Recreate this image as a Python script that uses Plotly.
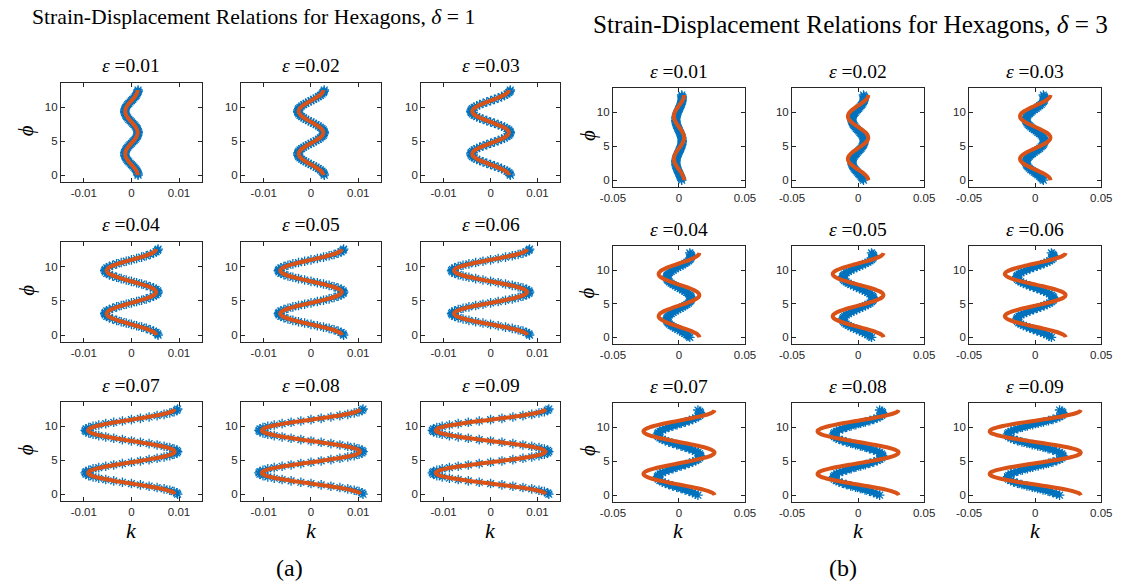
import plotly.graph_objects as go

# ---------------- data ----------------
EPSILON_LABELS = ["0.01", "0.02", "0.03", "0.04", "0.05", "0.06", "0.07", "0.08", "0.09"]

# angle phi samples along each curve
PHI = [0, 0.196, 0.393, 0.589, 0.785, 0.982, 1.178, 1.374, 1.571, 1.767, 1.963, 2.16,
       2.356, 2.553, 2.749, 2.945, 3.142, 3.338, 3.534, 3.731, 3.927, 4.123, 4.32, 4.516,
       4.712, 4.909, 5.105, 5.301, 5.498, 5.694, 5.89, 6.087, 6.283, 6.48, 6.676, 6.872,
       7.069, 7.265, 7.461, 7.658, 7.854, 8.05, 8.247, 8.443, 8.639, 8.836, 9.032, 9.228,
       9.425, 9.621, 9.817, 10.014, 10.21, 10.407, 10.603, 10.799, 10.996, 11.192, 11.388,
       11.585, 11.781, 11.977, 12.174, 12.37, 12.566]

# normalised curvature profile (model curve / left-hand markers)
PROFILE_MODEL = [1, .981, .924, .831, .707, .556, .383, .195, 0, -.195, -.383, -.556, -.707,
                 -.831, -.924, -.981, -1, -.981, -.924, -.831, -.707, -.556, -.383, -.195, 0,
                 .195, .383, .556, .707, .831, .924, .981, 1, .981, .924, .831, .707, .556,
                 .383, .195, 0, -.195, -.383, -.556, -.707, -.831, -.924, -.981, -1, -.981,
                 -.924, -.831, -.707, -.556, -.383, -.195, 0, .195, .383, .556, .707, .831,
                 .924, .981, 1]

# normalised profile of the simulated points for delta = 3 (phase-lagged)
PROFILE_SIM_D3 = [.878, .767, .627, .463, .282, .090, -.107, -.299, -.479, -.641, -.779, -.886,
                  -.959, -.996, -.995, -.954, -.878, -.767, -.627, -.463, -.282, -.090, .107,
                  .299, .479, .641, .779, .886, .959, .996, .995, .954, .878, .767, .627, .463,
                  .282, .090, -.107, -.299, -.479, -.641, -.779, -.886, -.959, -.996, -.995,
                  -.954, -.878, -.767, -.627, -.463, -.282, -.090, .107, .299, .479, .641,
                  .779, .886, .959, .996, .995, .954, .878]

# amplitudes of k per panel (epsilon = 0.01 ... 0.09)
AMP_SIM_D1 = [0.0014, 0.0028, 0.0042, 0.0056, 0.0069, 0.0083, 0.0097, 0.0110, 0.0124]
AMP_MODEL_D1 = [0.0013, 0.0026, 0.0039, 0.0052, 0.0065, 0.0078, 0.0091, 0.0104, 0.0117]
AMP_SIM_D3 = [0.0024, 0.0047, 0.0070, 0.0093, 0.0116, 0.0140, 0.0163, 0.0186, 0.0210]
AMP_MODEL_D3 = [0.0038, 0.0077, 0.0115, 0.0154, 0.0192, 0.0230, 0.0269, 0.0307, 0.0345]

XTICKS_D1 = [-0.01, 0, 0.01]
XTICKTEXT_D1 = ["-0.01", "0", "0.01"]
XTICKS_D3 = [-0.05, 0, 0.05]
XTICKTEXT_D3 = ["-0.05", "0", "0.05"]
YTICKS = [0, 5, 10]
YTICKTEXT = ["0", "5", "10"]

# ---------------- layout geometry (pixels) ----------------
W, H = 1125, 583
BLUE = "#0072BD"
ORANGE = "#D95319"
AXC = "#262626"

LEFT_COLS = [(49, 193), (233, 376), (417, 559)]
LEFT_ROWS = [(83, 182), (242, 342), (402, 501)]
RIGHT_COLS = [(613, 748), (796, 931), (977, 1112)]
RIGHT_ROWS = [(88, 187), (246, 344), (403, 502)]


def xd(a, b):
    return [a / W, b / W]


def yd(top, bot):
    return [1 - bot / H, 1 - top / H]


fig = go.Figure()
layout = {}
annotations = []
serif = "Liberation Serif, DejaVu Serif, serif"

axis_idx = 0
for group in range(2):
    cols = LEFT_COLS if group == 0 else RIGHT_COLS
    rows = LEFT_ROWS if group == 0 else RIGHT_ROWS
    for p in range(9):
        r, c = divmod(p, 3)
        axis_idx += 1
        xa = "x" if axis_idx == 1 else f"x{axis_idx}"
        ya = "y" if axis_idx == 1 else f"y{axis_idx}"
        if group == 0:
            k_sim = [AMP_SIM_D1[p] * v for v in PROFILE_MODEL]
            k_mod = [AMP_MODEL_D1[p] * v for v in PROFILE_MODEL]
            fig.add_trace(go.Scatter(
                x=k_sim, y=PHI, mode="markers", xaxis=xa, yaxis=ya, showlegend=False,
                marker=dict(symbol="asterisk-open", size=8, color=BLUE,
                            line=dict(color=BLUE, width=1.3))))
        else:
            k_sim = [AMP_SIM_D3[p] * v for v in PROFILE_SIM_D3]
            k_mod = [AMP_MODEL_D3[p] * v for v in PROFILE_MODEL]
            fig.add_trace(go.Scatter(
                x=k_sim, y=PHI, mode="lines+markers", xaxis=xa, yaxis=ya, showlegend=False,
                line=dict(color=BLUE, width=6, shape="spline"),
                marker=dict(symbol="asterisk-open", size=8, color=BLUE,
                            line=dict(color=BLUE, width=1.3))))
        fig.add_trace(go.Scatter(
            x=k_mod, y=PHI, mode="lines", xaxis=xa, yaxis=ya, showlegend=False,
            line=dict(color=ORANGE, width=4, shape="spline")))

        common = dict(showline=True, mirror="ticks", linecolor=AXC, linewidth=1,
                      ticks="inside", ticklen=4, tickcolor=AXC, tickwidth=1,
                      showgrid=False, zeroline=False,
                      tickfont=dict(family="Liberation Sans", size=11.5, color=AXC))
        xkey = "xaxis" if axis_idx == 1 else f"xaxis{axis_idx}"
        ykey = "yaxis" if axis_idx == 1 else f"yaxis{axis_idx}"
        if group == 0:
            layout[xkey] = dict(domain=xd(*cols[c]), range=[-0.0148, 0.0148],
                                tickvals=XTICKS_D1, ticktext=XTICKTEXT_D1,
                                anchor=ya, **common)
        else:
            layout[xkey] = dict(domain=xd(*cols[c]), range=[-0.05, 0.05],
                                tickvals=XTICKS_D3, ticktext=XTICKTEXT_D3,
                                anchor=ya, **common)
        layout[ykey] = dict(domain=yd(*rows[r]), range=[-1.0, 13.6],
                            tickvals=YTICKS, ticktext=YTICKTEXT, anchor=xa, **common)

        # panel title
        cx = (cols[c][0] + cols[c][1]) / 2
        ty = rows[r][0] - 17
        annotations.append(dict(
            text=f"<i>ε</i> ={EPSILON_LABELS[p]}",
            x=cx / W, y=1 - ty / H, xref="paper", yref="paper",
            xanchor="center", yanchor="middle", showarrow=False,
            font=dict(family=serif, size=19.5, color="black")))
        # phi label on first column
        if c == 0:
            lx = 14 if group == 0 else 587
            ly = (rows[r][0] + rows[r][1]) / 2 - 2
            annotations.append(dict(
                text="<i>ϕ</i>", x=lx / W, y=1 - ly / H, xref="paper", yref="paper",
                xanchor="center", yanchor="middle", showarrow=False, textangle=-90,
                font=dict(family=serif, size=21, color="black")))
        # k label on last row
        if r == 2:
            annotations.append(dict(
                text="<i>k</i>", x=cx / W, y=1 - 530 / H, xref="paper", yref="paper",
                xanchor="center", yanchor="middle", showarrow=False,
                font=dict(family=serif, size=22, color="black")))

annotations.append(dict(text="Strain-Displacement Relations for Hexagons, <i>δ</i> = 1",
                        x=246 / W, y=1 - 17 / H, xref="paper", yref="paper",
                        xanchor="center", yanchor="middle", showarrow=False,
                        font=dict(family=serif, size=21.7, color="black")))
annotations.append(dict(text="Strain-Displacement Relations for Hexagons, <i>δ</i> = 3",
                        x=855 / W, y=1 - 25 / H, xref="paper", yref="paper",
                        xanchor="center", yanchor="middle", showarrow=False,
                        font=dict(family=serif, size=25.2, color="black")))
annotations.append(dict(text="(a)", x=283 / W, y=1 - 568 / H, xref="paper", yref="paper",
                        xanchor="center", yanchor="middle", showarrow=False,
                        font=dict(family=serif, size=24, color="black")))
annotations.append(dict(text="(b)", x=848 / W, y=1 - 568 / H, xref="paper", yref="paper",
                        xanchor="center", yanchor="middle", showarrow=False,
                        font=dict(family=serif, size=24, color="black")))

# nudge the right-hand title to match the reference's horizontal extent
annotations[-3]["x"] = 856 / W

fig.update_layout(width=W, height=H, autosize=False,
                  margin=dict(l=0, r=0, t=0, b=0),
                  paper_bgcolor="white", plot_bgcolor="white",
                  annotations=annotations, **layout)

fig.write_html("out.html")
